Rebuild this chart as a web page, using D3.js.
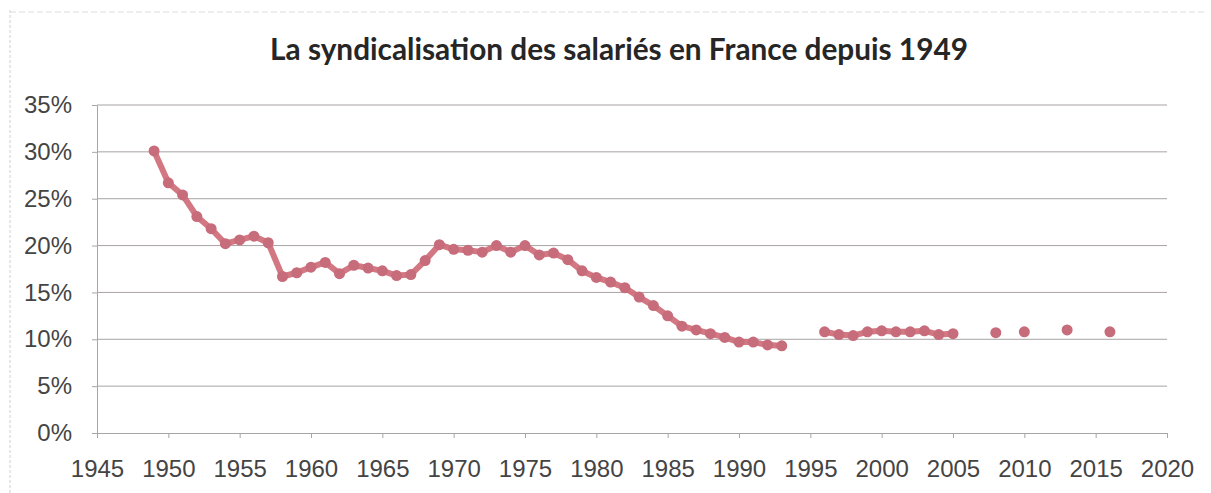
<!DOCTYPE html>
<html>
<head>
<meta charset="utf-8">
<script src="https://cdn.jsdelivr.net/npm/d3@7"></script>
<style>
  body { margin: 0; background: #fff; }
  svg { display: block; font-family: Lato, "Open Sans", sans-serif; }
  .axis path, .axis line { stroke: #a6a6a6; }
  .axis text { fill: #444; }
</style>
</head>
<body>
<div id="chart"><svg></svg></div>
<script>
// years with data (gaps are missing years in the source)
const years = [1949, 1950, 1951, 1952, 1953, 1954, 1955, 1956, 1957, 1958, 1959,
  1960, 1961, 1962, 1963, 1964, 1965, 1966, 1967, 1968, 1969,
  1970, 1971, 1972, 1973, 1974, 1975, 1976, 1977, 1978, 1979,
  1980, 1981, 1982, 1983, 1984, 1985, 1986, 1987, 1988, 1989,
  1990, 1991, 1992, 1993,
  1996, 1997, 1998, 1999, 2000, 2001, 2002, 2003, 2004, 2005,
  2008, 2010, 2013, 2016];
const rates = [30.1, 26.7, 25.4, 23.1, 21.8, 20.2, 20.6, 21.0, 20.3, 16.7, 17.1,
  17.7, 18.2, 17.0, 17.9, 17.6, 17.3, 16.8, 16.9, 18.4, 20.1,
  19.6, 19.5, 19.3, 20.0, 19.3, 20.0, 19.0, 19.2, 18.5, 17.3,
  16.6, 16.1, 15.5, 14.5, 13.6, 12.5, 11.4, 11.0, 10.6, 10.2,
  9.7, 9.7, 9.4, 9.3,
  10.8, 10.5, 10.4, 10.8, 10.9, 10.8, 10.8, 10.9, 10.5, 10.6,
  10.7, 10.8, 11.0, 10.8];
const xTicks = [1945, 1950, 1955, 1960, 1965, 1970, 1975, 1980, 1985, 1990,
  1995, 2000, 2005, 2010, 2015, 2020];
const yTicks = [0, 5, 10, 15, 20, 25, 30, 35];
const title = 'La syndicalisation des salariés en France depuis 1949';

const W = 1211, H = 493;
const svg = d3.select('#chart svg').attr('width', W).attr('height', H);

// faint frame of the original chart area (scan)
svg.append('line').attr('x1', 10).attr('x2', 10).attr('y1', 10).attr('y2', H)
  .attr('stroke', '#d0d0d0').attr('stroke-dasharray', '3,2');
svg.append('line').attr('x1', 10).attr('x2', 1205).attr('y1', 12).attr('y2', 12)
  .attr('stroke', '#dcdcdc').attr('stroke-dasharray', '6,3');

const xScale = d3.scaleLinear().domain([1945, 2020]).range([97, 1167]);
const yScale = d3.scaleLinear().domain([0, 35]).range([433, 105]);

// gridlines
svg.append('g').selectAll('line')
  .data(yTicks.filter(d => d > 0))
  .join('line')
    .attr('x1', xScale(1945)).attr('x2', xScale(2020))
    .attr('y1', d => yScale(d)).attr('y2', d => yScale(d))
    .attr('stroke', '#a9a3a5').attr('stroke-width', 1);

// axes
const xAxisG = svg.append('g')
    .attr('class', 'axis x-axis')
    .attr('transform', `translate(0,${yScale(0)})`)
    .call(d3.axisBottom(xScale).tickValues(xTicks).tickFormat(d => d)
      .tickSize(5).tickSizeOuter(0));
xAxisG.selectAll('text')
    .attr('y', 44).attr('dy', 0)
    .style('font-size', '24px');

const yAxisG = svg.append('g')
    .attr('class', 'axis y-axis')
    .attr('transform', `translate(${xScale(1945)},0)`)
    .call(d3.axisLeft(yScale).tickValues(yTicks).tickFormat(d => d + '%')
      .tickSize(5).tickSizeOuter(0).tickPadding(20));
yAxisG.selectAll('text')
    .style('font-size', '24px');

// data
const data = years.map((y, i) => ({year: y, value: rates[i]}));
// break the line where consecutive years are missing
const withGaps = [];
data.forEach((d, i) => {
  if (i > 0 && d.year - data[i - 1].year > 1) withGaps.push({year: d.year - 1, value: null});
  withGaps.push(d);
});

const line = d3.line()
    .defined(d => d.value !== null)
    .x(d => xScale(d.year))
    .y(d => yScale(d.value));

svg.append('path')
    .datum(withGaps)
    .attr('d', line)
    .attr('fill', 'none')
    .attr('stroke', '#cf6b77')
    .attr('stroke-width', 6)
    .attr('stroke-linejoin', 'round')
    .attr('stroke-opacity', 0.92);

svg.append('g').selectAll('circle')
    .data(data)
    .join('circle')
      .attr('cx', d => xScale(d.year))
      .attr('cy', d => yScale(d.value))
      .attr('r', 5.5)
      .attr('fill', '#c66c7a');

// title, sized to the original width
const t = svg.append('text')
    .attr('x', 619).attr('y', 60)
    .attr('text-anchor', 'middle')
    .attr('fill', '#262626')
    .style('font-weight', 'bold')
    .style('font-size', '26px')
    .text(title);
const tw = t.node().getComputedTextLength();
t.style('font-size', (26 * 698 / tw) + 'px');
</script>
</body>
</html>
